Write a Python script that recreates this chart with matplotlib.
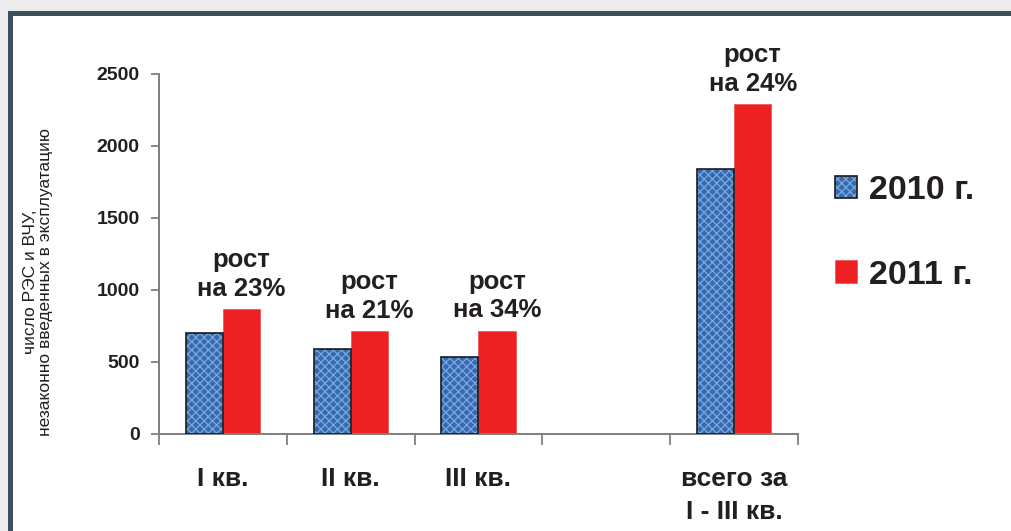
import numpy as np
import matplotlib
matplotlib.use('Agg')
import matplotlib.pyplot as plt
from matplotlib.patches import Rectangle, Patch
from matplotlib.legend_handler import HandlerTuple

plt.rcParams['font.family'] = ['Liberation Sans', 'DejaVu Sans']
plt.rcParams['hatch.linewidth'] = 0.9

categories = ['I кв.', 'II кв.', 'III кв.', '', 'всего за\nI - III кв.']
vals_2010 = [700, 588, 533, np.nan, 1843]
vals_2011 = [866, 716, 718, np.nan, 2292]
growth = ['рост\nна 23%', 'рост\nна 21%', 'рост\nна 34%', '', 'рост\nна 24%']
series = ['2010 г.', '2011 г.']
yticks = [0, 500, 1000, 1500, 2000, 2500]
ylabel = 'число РЭС и ВЧУ,\nнезаконно введенных в эксплуатацию'

txt = '#231f20'
blue = '#3b66b0'
blue_dots = '#72aee0'
red = '#ed2024'

W, H = 1011, 531
fig = plt.figure(figsize=(W / 100, H / 100), dpi=100)
fig.patch.set_facecolor('white')

# outer frame: light grey margin + dark slate border
fig.patches.append(Rectangle((0, 0), 8 / W, 1, transform=fig.transFigure,
                             facecolor='#ececec', edgecolor='none', zorder=0))
fig.patches.append(Rectangle((0, 1 - 11 / H), 1, 11 / H, transform=fig.transFigure,
                             facecolor='#ececec', edgecolor='none', zorder=0))
fig.patches.append(Rectangle((8 / W, 0), 5 / W, 1 - 11 / H, transform=fig.transFigure,
                             facecolor='#3d4f5a', edgecolor='none', zorder=1))
fig.patches.append(Rectangle((8 / W, 1 - 16 / H), 1 - 8 / W, 5 / H, transform=fig.transFigure,
                             facecolor='#3d4f5a', edgecolor='none', zorder=1))

ax = fig.add_axes([159 / W, 1 - 434 / H, (798 - 159) / W, (434 - 74) / H])

x = np.arange(len(categories))
bw = 0.29
b_fill = ax.bar(x - bw / 2, vals_2010, bw, color=blue, edgecolor=blue_dots,
                hatch='xxxx', linewidth=0, zorder=2)
b_edge = ax.bar(x - bw / 2, vals_2010, bw, facecolor='none', edgecolor='#1a1a1a',
                linewidth=1.2, zorder=3)
r_bars = ax.bar(x + bw / 2, vals_2011, bw, color=red, edgecolor='#f25a5c',
                linewidth=0.6, zorder=2)

for xi, v, g in zip(x, vals_2011, growth):
    if g:
        ax.annotate(g, (xi + bw / 2, v), xytext=(0, 6), textcoords='offset points',
                    ha='center', va='bottom', fontsize=18.5, fontweight='bold',
                    color=txt, linespacing=1.25)

ax.set_xlim(-0.5, len(categories) - 0.5)
ax.set_ylim(0, 2500)
ax.set_yticks(yticks)
ax.set_yticklabels([str(t) for t in yticks], fontsize=14, fontweight='bold', color=txt)
ax.set_xticks(x)
ax.set_xticklabels(categories, fontsize=19, fontweight='bold', color=txt, linespacing=1.45)
ax.set_xticks(np.arange(len(categories) + 1) - 0.5, minor=True)
ax.tick_params(axis='x', which='major', length=0, pad=24)
ax.tick_params(axis='x', which='minor', length=8, width=1.3, color='#7f7f7f', direction='out')
ax.tick_params(axis='y', length=6, width=1.3, color='#7f7f7f', pad=8)
for s in ['top', 'right']:
    ax.spines[s].set_visible(False)
for s in ['left', 'bottom']:
    ax.spines[s].set_color('#7f7f7f')
    ax.spines[s].set_linewidth(1.4)

fig.text(38 / W, 1 - 282 / H, ylabel, rotation=90, ha='center', va='center',
         fontsize=12.5, color=txt, linespacing=1.0)

h_blue = (Patch(facecolor=blue, edgecolor=blue_dots, hatch='xxxx', linewidth=0),
          Patch(facecolor='none', edgecolor='#1a1a1a', linewidth=1.2))
h_red = Patch(facecolor=red, edgecolor='#f25a5c', linewidth=0.6)
fig.legend([h_blue, h_red], series, handler_map={tuple: HandlerTuple(ndivide=1)},
           loc='upper left', bbox_to_anchor=(835 / W, 1 - 175 / H), frameon=False,
           borderpad=0, borderaxespad=0,
           prop={'size': 24.5, 'weight': 'bold'}, labelcolor=txt,
           handlelength=0.65, handleheight=0.65, handletextpad=0.35, labelspacing=1.58)

fig.savefig('out.png', dpi=100)
